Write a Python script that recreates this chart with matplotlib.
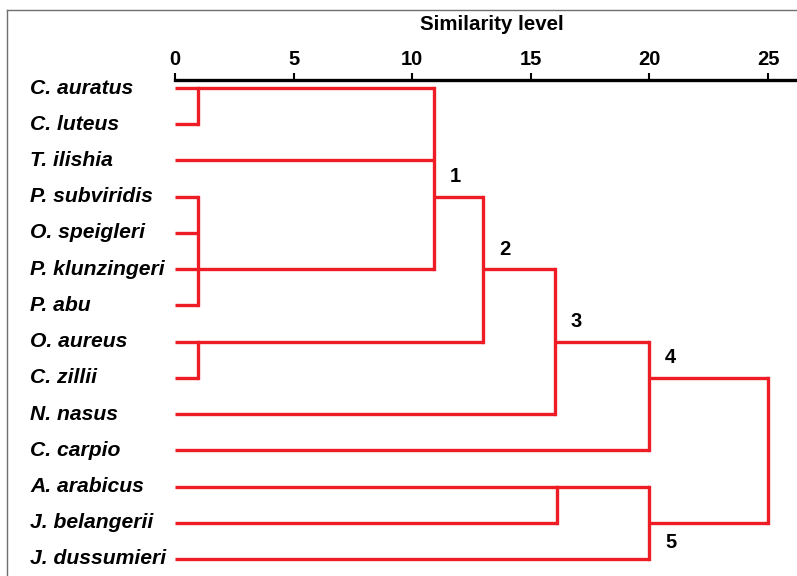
import matplotlib.pyplot as plt
from matplotlib.lines import Line2D
import matplotlib.transforms as mtransforms

# leaves, top to bottom
species = ["C. auratus", "C. luteus", "T. ilishia", "P. subviridis", "O. speigleri",
           "P. klunzingeri", "P. abu", "O. aureus", "C. zillii", "N. nasus",
           "C. carpio", "A. arabicus", "J. belangerii", "J. dussumieri"]

# merges: (similarity level, rows joined, row the line leaves from)
merges = [
    (0.95, [0, 1], 0),
    (0.95, [3, 4, 5, 6], 5),
    (0.95, [7, 8], 7),
    (10.9, [0, 2, 5], 3),
    (13.0, [3, 7], 5),
    (16.0, [5, 9], 7),
    (20.0, [7, 10], 8),
    (16.1, [11, 12], 11),
    (20.0, [11, 13], 12),
    (25.0, [8, 12], 8),
]

# cluster numbers: (tag, merge index, above/below)
cluster_tags = [("1", 3, -1), ("2", 4, -1), ("3", 5, -1), ("4", 6, -1), ("5", 8, 1)]

x_ticks = [0, 5, 10, 15, 20, 25]

RED = "#ee1c25"
W, H = 797, 576
fig = plt.figure(figsize=(W / 100, H / 100), dpi=100)
ax = fig.add_axes([175 / W, 0, 1 - 175 / W, (H - 80) / H])

pos = {i: 0.0 for i in range(len(species))}
for lvl, rows, out in merges:
    for r in rows:
        ax.plot([pos[r], lvl], [r, r], color=RED, lw=2.4, solid_capstyle="butt")
    ax.plot([lvl, lvl], [min(rows), max(rows)], color=RED, lw=2.4, solid_capstyle="projecting")
    pos[out] = lvl

for tag, mi, side in cluster_tags:
    lvl, rows, out = merges[mi]
    ax.text(lvl + 0.9, out + 0.55 * side, tag, fontsize=14.5, fontweight="bold",
            ha="center", va="center", family="Liberation Sans")

ax.set_xlim(0, (W - 175) / 23.72)
ax.set_ylim((H - 88) / 36.23, -8 / 36.23)
ax.xaxis.tick_top()
ax.set_xticks(x_ticks)
ax.set_xticklabels([str(t) for t in x_ticks], fontsize=14.5, fontweight="bold",
                   family="Liberation Sans")
ax.tick_params(axis="x", direction="out", length=5, width=1.5, pad=3)
ax.set_yticks([])
for s in ["left", "right", "bottom"]:
    ax.spines[s].set_visible(False)
ax.spines["top"].set_linewidth(2.4)

trans = mtransforms.blended_transform_factory(fig.transFigure, ax.transData)
for i, name in enumerate(species):
    ax.text(30 / W, i, name, transform=trans, fontsize=15.2, fontweight="bold",
            style="italic", ha="left", va="center", family="Liberation Sans")

fig.text(492 / W, 1 - 24 / H, "Similarity level", fontsize=14.8, fontweight="bold",
         ha="center", va="center", family="Liberation Sans")

# frame around the figure
fig.add_artist(Line2D([7 / W, 7 / W], [0, 1 - 10 / H], color="#6f6f6f", lw=1))
fig.add_artist(Line2D([7 / W, 1], [1 - 10 / H, 1 - 10 / H], color="#6f6f6f", lw=1))

fig.savefig("out.png", dpi=100)
